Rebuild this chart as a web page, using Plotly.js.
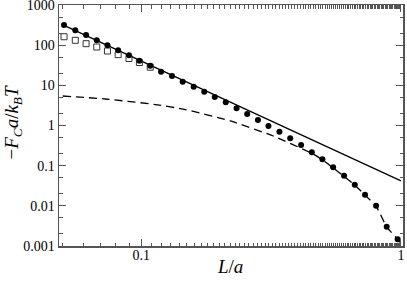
<!DOCTYPE html>
<html>
<head>
<meta charset="utf-8">
<script src="https://cdn.plot.ly/plotly-3.0.1.min.js"></script>
<style>html,body{margin:0;padding:0;background:#fff;}#chart{width:407px;height:282px;}</style>
</head>
<body>
<div id="chart"></div>
<script>
// Filled circles
var xFilled = [0.0505, 0.0558, 0.0614, 0.0675, 0.0742, 0.0816, 0.0898, 0.0985, 0.1084, 0.1193,
  0.1315, 0.1445, 0.1593, 0.175, 0.192, 0.2117, 0.233, 0.256, 0.2815, 0.309,
  0.3406, 0.3747, 0.4127, 0.4537, 0.4984, 0.548, 0.604, 0.664, 0.727, 0.802, 0.881, 0.971];
var yFilled = [318, 236, 179, 133, 100, 75, 56, 41, 30.7, 21.9,
  17.1, 12.3, 9.25, 6.95, 5.13, 3.78, 2.68, 1.93, 1.37, 0.972,
  0.701, 0.480, 0.329, 0.215, 0.144, 0.0911, 0.0563, 0.0336, 0.0190, 0.0101, 0.0030, 0.00147];
// Open squares
var xOpen = [0.0505, 0.0558, 0.0614, 0.0675, 0.0742, 0.0816, 0.0898, 0.0985, 0.1084];
var yOpen = [162, 132, 109, 90, 71.6, 58, 46.6, 37, 28.3];
// Solid power law line
var xSolid = [0.05, 1.0];
var ySolid = [320, 0.042];
// Dashed curve
var xDashed = [0.0499, 0.0729, 0.1135, 0.148, 0.2203, 0.3224, 0.4592, 0.4984, 0.548, 0.604, 0.664, 0.727, 0.802, 0.881, 0.971, 1.0];
var yDashed = [5.43, 4.57, 3.33, 2.50, 1.295, 0.548, 0.195, 0.14, 0.088, 0.054, 0.033, 0.0185, 0.0098, 0.0030, 0.00147, 0.0011];

var yTickVals = [0.001, 0.01, 0.1, 1, 10, 100, 1000];
var yTickText = ['0.001', '0.01', '0.1', '1', '10', '100', '1000'];
var xTickVals = [0.1, 1];
var xTickText = ['0.1', '1'];

var serif = 'Liberation Serif, Times New Roman, serif';

var traces = [
  {x: xSolid, y: ySolid, mode: 'lines', line: {color: '#000', width: 1.3}, hoverinfo: 'skip'},
  {x: xDashed, y: yDashed, mode: 'lines', line: {color: '#000', width: 1.3, dash: '8px,5px', shape: 'spline', smoothing: 0.5}, hoverinfo: 'skip'},
  {x: xOpen, y: yOpen, mode: 'markers', marker: {symbol: 'square-open', size: 6, color: '#333', line: {width: 1}}},
  {x: xFilled, y: yFilled, mode: 'markers', marker: {symbol: 'circle', size: 6, color: '#000'}}
];

var axisCommon = {
  type: 'log', showgrid: false, zeroline: false, showline: true, linecolor: '#555', linewidth: 1.5,
  mirror: 'ticks', ticks: 'inside', ticklen: 7, tickwidth: 1, tickcolor: '#555',
  ticklabeloverflow: 'allow',
  tickfont: {family: serif, size: 14, color: '#000'},
  minor: {ticks: 'inside', ticklen: 3.5, tickwidth: 1, tickcolor: '#555', showgrid: false}
};

var layout = {
  width: 407, height: 282,
  margin: {l: 58.5, r: 4, t: 5, b: 36},
  paper_bgcolor: '#fff', plot_bgcolor: '#fff',
  showlegend: false,
  xaxis: Object.assign({}, axisCommon, {
    range: [Math.log10(0.0483), Math.log10(1.018)],
    tickmode: 'array', tickvals: xTickVals, ticktext: xTickText,
    ticklabelstandoff: -4
  }),
  yaxis: Object.assign({}, axisCommon, {
    range: [-3, 3],
    tickmode: 'array', tickvals: yTickVals, ticktext: yTickText
  }),
  annotations: [
    {text: '<i>L</i>/<i>a</i>', xref: 'paper', yref: 'paper', x: 0.498, y: -0.087,
     xanchor: 'center', yanchor: 'middle', showarrow: false, font: {family: serif, size: 19, color: '#000'}},
    {text: '−<i>F</i><sub><i>C</i></sub><i>a</i>/<i>k</i><sub><i>B</i></sub><i>T</i>', xref: 'paper', yref: 'paper',
     x: -0.135, y: 0.5145, xanchor: 'center', yanchor: 'middle', textangle: -90, showarrow: false,
     font: {family: serif, size: 19, color: '#000'}}
  ]
};

Plotly.newPlot('chart', traces, layout, {displayModeBar: false, staticPlot: true});
</script>
</body>
</html>
